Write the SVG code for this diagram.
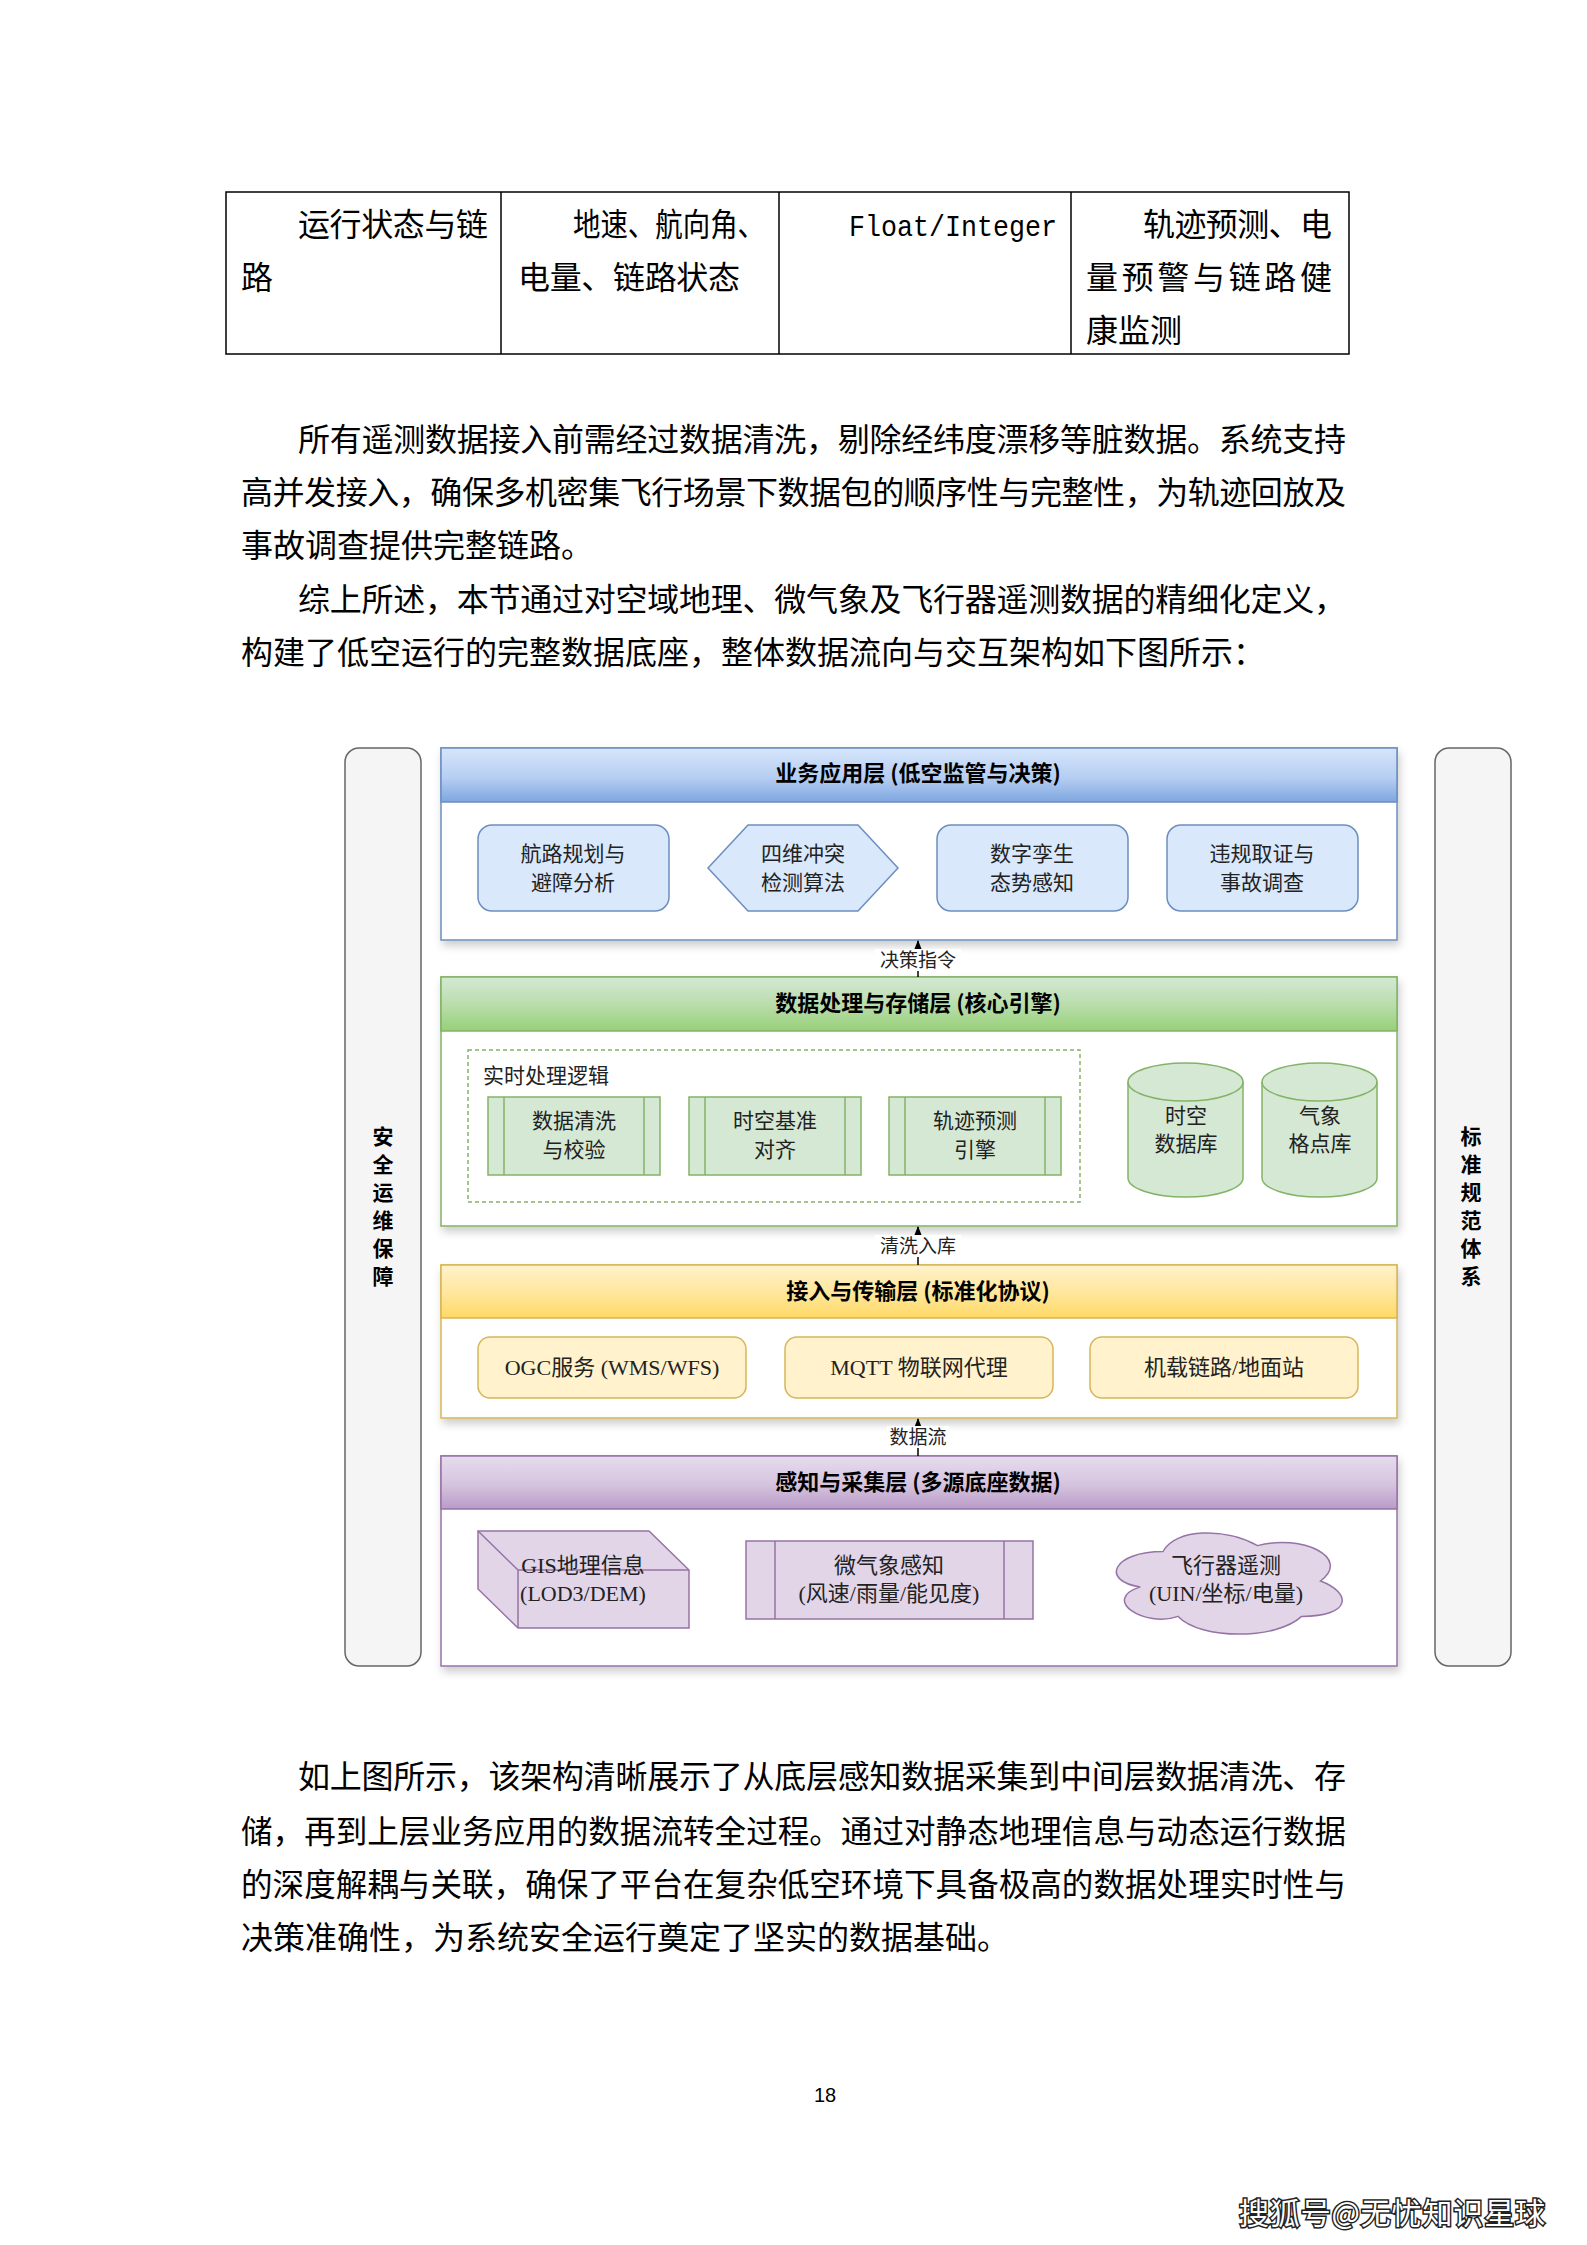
<svg xmlns="http://www.w3.org/2000/svg" width="1587" height="2245" viewBox="0 0 1587 2245">
<defs>
<style>
.body{font-family:"Noto Sans CJK SC",sans-serif;font-size:32px;fill:#000}
.mono{font-family:"Liberation Mono","Noto Sans CJK SC",monospace;font-size:30px;fill:#000}
.dg{font-family:"Noto Sans CJK SC",sans-serif;font-size:21px;fill:#222;text-anchor:middle}
.ser{font-family:"Liberation Serif","Noto Sans CJK SC",serif;font-size:22px;fill:#222;text-anchor:middle}
.hd{font-family:"Noto Sans CJK SC",sans-serif;font-weight:bold;font-size:22px;fill:#000;text-anchor:middle}
.side{font-family:"Noto Sans CJK SC",sans-serif;font-weight:bold;font-size:21px;fill:#000;text-anchor:middle}
.lbl{font-family:"Noto Sans CJK SC",sans-serif;font-size:19px;fill:#222;text-anchor:middle}
.tbl{fill:none;stroke:#000;stroke-width:1.5}
.bar{fill:#f5f5f5;stroke:#666;stroke-width:1.5}
.conn{stroke:#000;stroke-width:1.5;fill:none}
.bl{fill:#dae8fc;stroke:#6c8ebf;stroke-width:1.5}
.gr{fill:#d5e8d4;stroke:#82b366;stroke-width:1.5}
.ye{fill:#fff2cc;stroke:#d6b656;stroke-width:1.5}
.pu{fill:#e1d5e7;stroke:#9673a6;stroke-width:1.5}
</style>
<linearGradient id="gBlue" x1="0" y1="0" x2="0" y2="1"><stop offset="0" stop-color="#d6e5fb"/><stop offset="0.55" stop-color="#b6cef2"/><stop offset="1" stop-color="#7ea6e0"/></linearGradient>
<linearGradient id="gGreen" x1="0" y1="0" x2="0" y2="1"><stop offset="0" stop-color="#d5e8d4"/><stop offset="0.55" stop-color="#b7dca8"/><stop offset="1" stop-color="#97d077"/></linearGradient>
<linearGradient id="gYellow" x1="0" y1="0" x2="0" y2="1"><stop offset="0" stop-color="#fff2cc"/><stop offset="0.55" stop-color="#ffe699"/><stop offset="1" stop-color="#ffd966"/></linearGradient>
<linearGradient id="gPurple" x1="0" y1="0" x2="0" y2="1"><stop offset="0" stop-color="#e6dcec"/><stop offset="0.55" stop-color="#d5c3de"/><stop offset="1" stop-color="#b99bc8"/></linearGradient>
<filter id="sh" x="-3%" y="-5%" width="106%" height="115%"><feDropShadow dx="2" dy="5" stdDeviation="4" flood-color="#000" flood-opacity="0.2"/></filter>
<marker id="arr" viewBox="0 0 10 10" refX="9" refY="5" markerWidth="6" markerHeight="6" orient="auto"><path d="M0,1 L10,5 L0,9 Z" fill="#000"/></marker>
</defs>
<rect width="1587" height="2245" fill="#fff"/>

<g id="table">
<rect class="tbl" x="226" y="192" width="1123" height="162"/>
<line class="tbl" x1="501" y1="192" x2="501" y2="354"/>
<line class="tbl" x1="779" y1="192" x2="779" y2="354"/>
<line class="tbl" x1="1071" y1="192" x2="1071" y2="354"/>
<text class="body" x="298" y="236" textLength="190">运行状态与链</text>
<text class="body" x="241" y="289">路</text>
<text class="body" x="573" y="236" textLength="192" lengthAdjust="spacingAndGlyphs">地速、航向角、</text>
<text class="body" x="518" y="289" textLength="222">电量、链路状态</text>
<text class="mono" x="849" y="236" textLength="208" lengthAdjust="spacingAndGlyphs">Float/Integer</text>
<text class="body" x="1143" y="236" textLength="189">轨迹预测、电</text>
<text class="body" x="1086" y="289" textLength="246">量预警与链路健</text>
<text class="body" x="1086" y="342">康监测</text>
</g>

<g id="para1">
<text class="body" x="298" y="451" textLength="1048">所有遥测数据接入前需经过数据清洗，剔除经纬度漂移等脏数据。系统支持</text>
<text class="body" x="241" y="504" textLength="1105">高并发接入，确保多机密集飞行场景下数据包的顺序性与完整性，为轨迹回放及</text>
<text class="body" x="241" y="557">事故调查提供完整链路。</text>
<text class="body" x="298" y="611" textLength="1048">综上所述，本节通过对空域地理、微气象及飞行器遥测数据的精细化定义，</text>
<text class="body" x="241" y="664">构建了低空运行的完整数据底座，整体数据流向与交互架构如下图所示：</text>
</g>

<g id="side-left">
<rect class="bar" x="345" y="748" width="76" height="918" rx="14"/>
<text class="side" x="383" y="1144">安</text>
<text class="side" x="383" y="1172">全</text>
<text class="side" x="383" y="1200">运</text>
<text class="side" x="383" y="1228">维</text>
<text class="side" x="383" y="1256">保</text>
<text class="side" x="383" y="1284">障</text>
</g>
<g id="side-right">
<rect class="bar" x="1435" y="748" width="76" height="918" rx="14"/>
<text class="side" x="1471" y="1144">标</text>
<text class="side" x="1471" y="1172">准</text>
<text class="side" x="1471" y="1200">规</text>
<text class="side" x="1471" y="1228">范</text>
<text class="side" x="1471" y="1256">体</text>
<text class="side" x="1471" y="1284">系</text>
</g>

<g id="layer-app">
<rect x="441" y="748" width="956" height="192" fill="#fff" stroke="#6c8ebf" stroke-width="1.5" filter="url(#sh)"/>
<rect x="441" y="748" width="956" height="54" fill="url(#gBlue)" stroke="#6c8ebf" stroke-width="1.5"/>
<text class="hd" x="918" y="781">业务应用层 (低空监管与决策)</text>
</g>
<g id="node-route"><rect class="bl" x="478" y="825" width="191" height="86" rx="14"/><text class="dg" x="573" y="861">航路规划与</text><text class="dg" x="573" y="890">避障分析</text></g>
<g id="node-4d"><polygon class="bl" points="748,825 858,825 898,868 858,911 748,911 708,868"/><text class="dg" x="803" y="861">四维冲突</text><text class="dg" x="803" y="890">检测算法</text></g>
<g id="node-twin"><rect class="bl" x="937" y="825" width="191" height="86" rx="14"/><text class="dg" x="1032" y="861">数字孪生</text><text class="dg" x="1032" y="890">态势感知</text></g>
<g id="node-evidence"><rect class="bl" x="1167" y="825" width="191" height="86" rx="14"/><text class="dg" x="1262" y="861">违规取证与</text><text class="dg" x="1262" y="890">事故调查</text></g>

<g id="layer-proc">
<rect x="441" y="977" width="956" height="249" fill="#fff" stroke="#82b366" stroke-width="1.5" filter="url(#sh)"/>
<rect x="441" y="977" width="956" height="54" fill="url(#gGreen)" stroke="#82b366" stroke-width="1.5"/>
<text class="hd" x="918" y="1011">数据处理与存储层 (核心引擎)</text>
</g>
<g id="group-realtime">
<rect x="468" y="1050" width="612" height="152" fill="none" stroke="#82b366" stroke-width="1.5" stroke-dasharray="4,3"/>
<text class="dg" x="483" y="1083" style="text-anchor:start">实时处理逻辑</text>
</g>
<g id="node-clean"><rect class="gr" x="488" y="1097" width="172" height="78"/><line class="gr" x1="504" y1="1097" x2="504" y2="1175"/><line class="gr" x1="644" y1="1097" x2="644" y2="1175"/><text class="dg" x="574" y="1128">数据清洗</text><text class="dg" x="574" y="1157">与校验</text></g>
<g id="node-align"><rect class="gr" x="689" y="1097" width="172" height="78"/><line class="gr" x1="705" y1="1097" x2="705" y2="1175"/><line class="gr" x1="845" y1="1097" x2="845" y2="1175"/><text class="dg" x="775" y="1128">时空基准</text><text class="dg" x="775" y="1157">对齐</text></g>
<g id="node-predict"><rect class="gr" x="889" y="1097" width="172" height="78"/><line class="gr" x1="905" y1="1097" x2="905" y2="1175"/><line class="gr" x1="1045" y1="1097" x2="1045" y2="1175"/><text class="dg" x="975" y="1128">轨迹预测</text><text class="dg" x="975" y="1157">引擎</text></g>
<g id="node-stdb"><path class="gr" d="M1128,1082 A57.5,19 0 0 1 1243,1082 L1243,1178 A57.5,19 0 0 1 1128,1178 Z"/><path d="M1128,1082 A57.5,19 0 0 0 1243,1082" fill="none" stroke="#82b366" stroke-width="1.5"/><text class="dg" x="1186" y="1123">时空</text><text class="dg" x="1186" y="1151">数据库</text></g>
<g id="node-wxdb"><path class="gr" d="M1262,1082 A57.5,19 0 0 1 1377,1082 L1377,1178 A57.5,19 0 0 1 1262,1178 Z"/><path d="M1262,1082 A57.5,19 0 0 0 1377,1082" fill="none" stroke="#82b366" stroke-width="1.5"/><text class="dg" x="1320" y="1123">气象</text><text class="dg" x="1320" y="1151">格点库</text></g>

<g id="layer-access">
<rect x="441" y="1265" width="956" height="153" fill="#fff" stroke="#d6b656" stroke-width="1.5" filter="url(#sh)"/>
<rect x="441" y="1265" width="956" height="53" fill="url(#gYellow)" stroke="#d6b656" stroke-width="1.5"/>
<text class="hd" x="918" y="1299">接入与传输层 (标准化协议)</text>
</g>
<g id="node-ogc"><rect class="ye" x="478" y="1337" width="268" height="61" rx="12"/><text class="ser" x="612" y="1375">OGC服务 (WMS/WFS)</text></g>
<g id="node-mqtt"><rect class="ye" x="785" y="1337" width="268" height="61" rx="12"/><text class="ser" x="919" y="1375">MQTT 物联网代理</text></g>
<g id="node-link"><rect class="ye" x="1090" y="1337" width="268" height="61" rx="12"/><text class="ser" x="1224" y="1375">机载链路/地面站</text></g>

<g id="layer-sense">
<rect x="441" y="1456" width="956" height="210" fill="#fff" stroke="#9673a6" stroke-width="1.5" filter="url(#sh)"/>
<rect x="441" y="1456" width="956" height="53" fill="url(#gPurple)" stroke="#9673a6" stroke-width="1.5"/>
<text class="hd" x="918" y="1490">感知与采集层 (多源底座数据)</text>
</g>
<g id="node-gis">
<path class="pu" d="M478,1531 L649,1531 L689,1570 L689,1628 L518,1628 L478,1589 Z"/>
<path d="M478,1531 L518,1570 L689,1570 M518,1570 L518,1628" fill="none" stroke="#9673a6" stroke-width="1.5"/>
<text class="ser" x="583" y="1573">GIS地理信息</text><text class="ser" x="583" y="1601">(LOD3/DEM)</text>
</g>
<g id="node-micro">
<rect class="pu" x="746" y="1541" width="287" height="78"/>
<line class="pu" x1="775" y1="1541" x2="775" y2="1619"/><line class="pu" x1="1004" y1="1541" x2="1004" y2="1619"/>
<text class="ser" x="889" y="1573">微气象感知</text><text class="ser" x="889" y="1601">(风速/雨量/能见度)</text>
</g>
<g id="node-telemetry">
<path class="pu" d="M1163,1551.5 C1112.6,1551.5 1100,1581 1140.3,1586.9 C1100,1599.9 1145.4,1628.2 1178.1,1616.4 C1200.8,1640 1276.4,1640 1301.6,1616.4 C1352,1616.4 1352,1592.8 1320.5,1581 C1352,1557.4 1301.6,1533.8 1257.5,1545.6 C1226,1527.9 1175.6,1527.9 1163,1551.5 Z"/>
<text class="ser" x="1226" y="1573">飞行器遥测</text><text class="ser" x="1226" y="1601">(UIN/坐标/电量)</text>
</g>

<g id="connectors">
<line class="conn" x1="918" y1="977" x2="918" y2="941" marker-end="url(#arr)"/>
<rect x="875" y="949" width="86" height="22" fill="#fff"/>
<text class="lbl" x="918" y="967">决策指令</text>
<line class="conn" x1="918" y1="1265" x2="918" y2="1227" marker-end="url(#arr)"/>
<rect x="875" y="1235" width="86" height="22" fill="#fff"/>
<text class="lbl" x="918" y="1253">清洗入库</text>
<line class="conn" x1="918" y1="1456" x2="918" y2="1419" marker-end="url(#arr)"/>
<rect x="887" y="1426" width="62" height="22" fill="#fff"/>
<text class="lbl" x="918" y="1444">数据流</text>
</g>

<g id="para2">
<text class="body" x="298" y="1788" textLength="1048">如上图所示，该架构清晰展示了从底层感知数据采集到中间层数据清洗、存</text>
<text class="body" x="241" y="1843" textLength="1105" lengthAdjust="spacingAndGlyphs">储，再到上层业务应用的数据流转全过程。通过对静态地理信息与动态运行数据</text>
<text class="body" x="241" y="1896" textLength="1105" lengthAdjust="spacingAndGlyphs">的深度解耦与关联，确保了平台在复杂低空环境下具备极高的数据处理实时性与</text>
<text class="body" x="241" y="1949">决策准确性，为系统安全运行奠定了坚实的数据基础。</text>
</g>

<text x="825" y="2102" font-family="Liberation Sans, sans-serif" font-size="20" text-anchor="middle" fill="#000">18</text>
<text x="1239" y="2224" font-family="Noto Sans CJK SC, sans-serif" font-size="30" textLength="306" fill="#fff" stroke="#222" stroke-width="3" paint-order="stroke">搜狐号@无忧知识星球</text>
</svg>
